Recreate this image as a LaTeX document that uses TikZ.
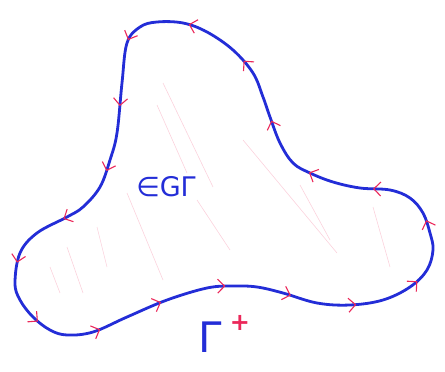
\documentclass[tikz,border=0pt]{standalone}
\usepackage{fontspec}
\newfontfamily\handfont{DejaVu Sans}
\usetikzlibrary{decorations.markings,arrows.meta}
\definecolor{penblue}{RGB}{35,45,215}
\definecolor{penred}{RGB}{235,40,90}
\tikzset{
  outline/.style={draw=penblue,line width=2.8pt,line join=round,
    postaction={decorate,decoration={markings,
      mark=between positions 0.015 and 1 step 0.0555 with
        {\arrow{Straight Barb[color=penred,length=7pt,width=14pt,line width=1.1pt]}}}}},
  hatch/.style={draw=penred!35,line width=0.6pt,opacity=0.6},
  bluelabel/.style={text=penblue,inner sep=0pt},
  redlabel/.style={text=penred,inner sep=0pt}
}
\begin{document}
\begin{tikzpicture}[x=1pt,y=-1pt]
\useasboundingbox (0,0) rectangle (445,372);
% hatching
\draw[hatch] (163,83) -- (213,187);
\draw[hatch] (157,105) -- (187,173);
\draw[hatch] (243,140) -- (337,253);
\draw[hatch] (300,185) -- (330,240);
\draw[hatch] (373,207) -- (390,267);
\draw[hatch] (127,193) -- (163,280);
\draw[hatch] (97,227) -- (107,267);
\draw[hatch] (67,247) -- (83,293);
\draw[hatch] (50,267) -- (60,293);
\draw[hatch] (197,200) -- (230,250);
% outline
\draw[outline] plot[smooth cycle,tension=0.6] coordinates {
 (157,22) (140,27) (127,43) (122,83) (117,133) (110,160) (100,187)
 (83,207) (67,217) (37,233) (20,253) (15,283) (20,300) (33,317)
 (50,330) (67,335) (93,332) (127,317) (167,300) (207,288) (233,286)
 (257,287) (283,293) (317,303) (350,305) (383,300) (410,287)
 (427,270) (433,250) (430,233) (423,213) (410,198) (390,190)
 (360,188) (333,182) (310,173) (293,163) (280,143) (270,117)
 (263,97) (253,73) (233,50) (207,32) (183,23)};
% labels
\node[bluelabel,font=\handfont\fontsize{27}{27}\selectfont] (elem) at (166,187) {∈GΓ};
\node[bluelabel,font=\handfont\fontsize{42}{42}\selectfont] (gam) at (210,337) {Γ};
\node[redlabel,font=\handfont\bfseries\fontsize{24}{24}\selectfont] (plus) at (240,323) {+};
\end{tikzpicture}
\end{document}
